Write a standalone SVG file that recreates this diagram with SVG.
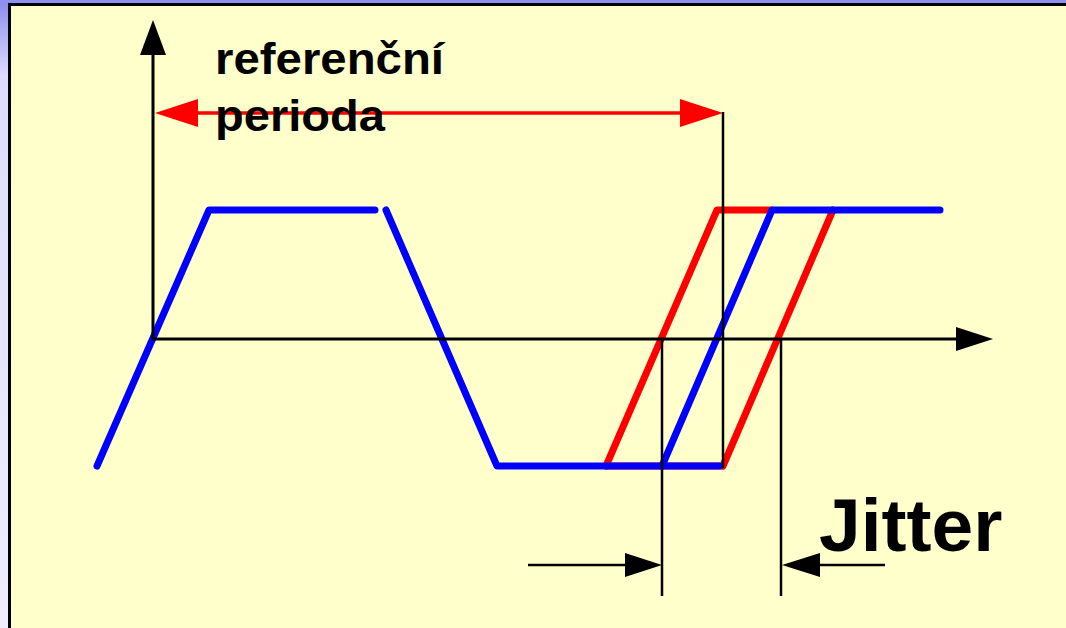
<svg xmlns="http://www.w3.org/2000/svg" width="1066" height="628" viewBox="0 0 1066 628">
<defs>
<linearGradient id="side" x1="0" y1="0" x2="0" y2="1" gradientUnits="objectBoundingBox">
<stop offset="0" stop-color="#8a8aee"/>
<stop offset="0.12" stop-color="#dcdcff"/>
<stop offset="1" stop-color="#eeeeff"/>
</linearGradient>
<style>
.wave{fill:none;stroke-width:7;stroke-linecap:round;stroke-linejoin:round}
.blue{stroke:#0000ff}
.red{stroke:#ff0000}
.ax{fill:none;stroke:#000;stroke-width:3}
.thin{fill:none;stroke:#000;stroke-width:2.5}
.lbl{font-family:"Liberation Sans",Arial,sans-serif;font-weight:bold;fill:#000}
</style>
</defs>
<g id="background">
<rect x="0" y="0" width="1066" height="628" fill="#eeeeff"/>
<rect x="0" y="0" width="10" height="628" fill="url(#side)"/>
<rect x="0" y="0" width="1066" height="4" fill="#8f8ff0"/>
<rect x="9.5" y="4.5" width="1070" height="640" fill="#ffffcc" stroke="#000" stroke-width="3"/>
</g>
<g id="waves">
<polyline class="wave red" points="606,466 717,210 772,210"/>
<polyline class="wave red" points="606,466 722,466"/>
<polyline class="wave red" points="723,466 833,210"/>
<polyline class="wave blue" points="97,466 209,210 375,210"/>
<polyline class="wave blue" points="386,210 497,466 720,466"/>
<polyline class="wave blue" points="662,466 772,210 940,210"/>
</g>
<g id="connectors">
<line class="ax" x1="153" y1="340" x2="153" y2="54"/>
<polygon points="153,20 140,55 166,55" fill="#000"/>
<line class="ax" x1="152" y1="339" x2="957" y2="339"/>
<polygon points="993,339 956,327 956,351" fill="#000"/>
<line x1="196" y1="113" x2="682" y2="113" stroke="#ff0000" stroke-width="3.5"/>
<polygon points="155,113 198,99 198,127" fill="#ff0000"/>
<polygon points="723,113 680,99 680,127" fill="#ff0000"/>
<line class="thin" x1="723" y1="112" x2="723" y2="468"/>
<line class="thin" x1="662" y1="339" x2="662" y2="596"/>
<line class="thin" x1="781" y1="339" x2="781" y2="596"/>
<line class="thin" x1="528" y1="565" x2="626" y2="565"/>
<polygon points="662,565 625,553 625,577" fill="#000"/>
<line class="thin" x1="819" y1="565" x2="885" y2="565"/>
<polygon points="782,565 820,553 820,577" fill="#000"/>
</g>
<g id="labels">
<text class="lbl" x="215" y="74" font-size="44" textLength="229" lengthAdjust="spacingAndGlyphs">referenční</text>
<text class="lbl" x="215" y="131" font-size="44" textLength="170" lengthAdjust="spacingAndGlyphs">perioda</text>
<text class="lbl" x="819" y="551" font-size="75">Jitter</text>
</g>
</svg>
